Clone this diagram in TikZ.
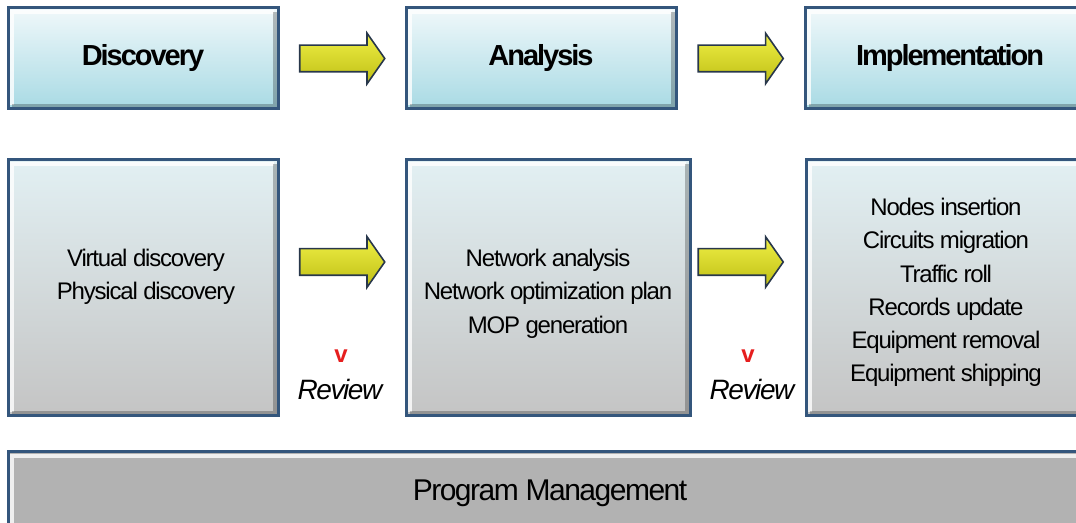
\documentclass[tikz,border=0pt]{standalone}
\usepackage{fontspec}
\setmainfont{Liberation Sans}[LetterSpace=-5]
\usepackage{tikz}
\usetikzlibrary{arrows.meta, positioning, shapes.arrows, calc}

\definecolor{frameblue}{RGB}{52,86,124}
\definecolor{titletop}{RGB}{240,248,250}
\definecolor{titlebot}{RGB}{168,218,228}
\definecolor{worktop}{RGB}{226,240,243}
\definecolor{workmid}{RGB}{214,217,218}
\definecolor{workbot}{RGB}{196,196,196}
\definecolor{bargray}{RGB}{178,178,178}
\definecolor{arrowtop}{RGB}{240,240,70}
\definecolor{arrowbot}{RGB}{190,190,20}
\definecolor{arrowedge}{RGB}{40,55,75}
\definecolor{reviewred}{RGB}{230,30,30}

\begin{document}
\begin{tikzpicture}[
  x=0.5pt,y=-0.5pt,
  bevel/.style={path picture={
      \draw[white,opacity=.8,line width=2pt]
        ([xshift=2pt,yshift=2pt]path picture bounding box.south west)
        |- ([xshift=-2pt,yshift=-2pt]path picture bounding box.north east);
      \draw[black,opacity=.25,line width=2pt]
        ([xshift=2pt,yshift=1.5pt]path picture bounding box.south west)
        -| ([xshift=-1.5pt,yshift=-2pt]path picture bounding box.north east);}},
  phase/.style={draw=frameblue,line width=1.5pt,top color=titletop,bottom color=titlebot,
    minimum width=135pt,minimum height=50.5pt,inner sep=0pt,bevel,
    font=\fontsize{14.5}{17}\selectfont\bfseries\addfontfeature{LetterSpace=-7}},
  work/.style={draw=frameblue,line width=1.5pt,top color=worktop,middle color=workmid,
    bottom color=workbot,minimum height=128pt,inner sep=0pt,bevel},
  tasks/.style={anchor=north,align=center,inner sep=0pt,font=\fontsize{12}{16.6}\selectfont},
  blockarrow/.style={single arrow,draw=arrowedge,line width=0.8pt,top color=arrowtop,
    bottom color=arrowbot,minimum height=42.5pt,inner xsep=0pt,inner ysep=6.25pt,
    single arrow head extend=6pt,single arrow tip angle=110,xshift=-2.2pt},
  tick/.style={text=reviewred,font=\fontsize{12}{14}\selectfont\bfseries},
  review/.style={font=\fontsize{14}{16}\selectfont\itshape}
]
\useasboundingbox (0,0) rectangle (1076,523);
\clip (0,0) rectangle (1076,523);

% ----- Phases (top row) ----------------------------------------------------
\node[phase] (disc) at (143,58.5) {Discovery};
\node[phase] (anal) at (541,58.5) {Analysis};
\node[phase,minimum width=145pt] (impl) at (950,58.5) {Implementation};

\node[blockarrow] (a1) at ($(disc.east)!0.5!(anal.west)$) {};
\node[blockarrow] (a2) at ($(anal.east)!0.5!(impl.west)$) {};

% ----- Work boxes (middle row) ---------------------------------------------
\node[work,minimum width=135pt] (discW) at (143,288) {};
\node[work,minimum width=142pt] (analW) at (548,288) {};
\node[work,minimum width=144pt] (implW) at (950,288) {};

\node[tasks] (discT) at (146,249) {Virtual discovery\\Physical discovery};
\node[tasks] (analT) at (548,249) {Network analysis\\Network optimization plan\\MOP generation};
\node[tasks] (implT) at (946,198) {Nodes insertion\\Circuits migration\\Traffic roll\\
  Records update\\Equipment removal\\Equipment shipping};

\node[blockarrow,xshift=2.2pt] (b1) at (a1 |- 0,262) {};
\node[blockarrow,xshift=2.2pt] (b2) at (a2 |- 0,262) {};

% ----- Review marks --------------------------------------------------------
\node[tick] (v1) at (341,356) {v};
\node[review] (r1) at (340,389) {Review};
\node[tick] (v2) at (748,356) {v};
\node[review] (r2) at (752,389) {Review};

% ----- Program management bar ----------------------------------------------
\node[draw=frameblue,line width=1.5pt,fill=bargray,bevel,minimum width=545pt,
  minimum height=40pt] (pm) at (553,492) {};
\node[font=\fontsize{15}{18}\selectfont] (pmT) at (550,493) {Program Management};

\end{tikzpicture}
\end{document}
